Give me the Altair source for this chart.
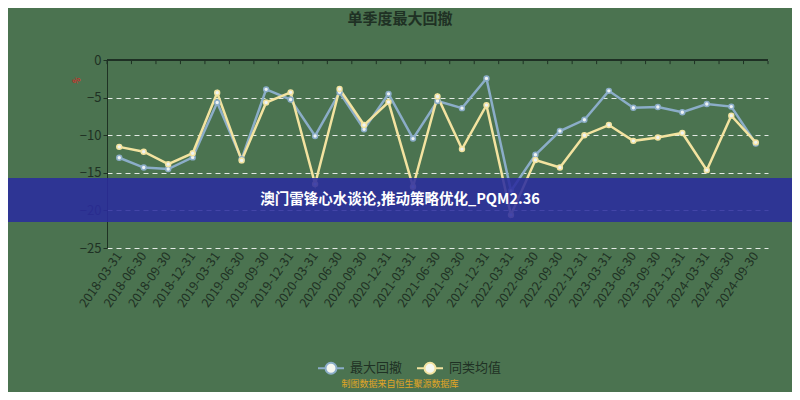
import altair as alt
import pandas as pd

dates = [
    "2018-03-31", "2018-06-30", "2018-09-30", "2018-12-31",
    "2019-03-31", "2019-06-30", "2019-09-30", "2019-12-31",
    "2020-03-31", "2020-06-30", "2020-09-30", "2020-12-31",
    "2021-03-31", "2021-06-30", "2021-09-30", "2021-12-31",
    "2022-03-31", "2022-06-30", "2022-09-30", "2022-12-31",
    "2023-03-31", "2023-06-30", "2023-09-30", "2023-12-31",
    "2024-03-31", "2024-06-30", "2024-09-30",
]
max_drawdown = [
    -13.0, -14.3, -14.5, -12.95,
    -5.65, -13.2, -3.9, -5.25,
    -10.1, -4.3, -9.2, -4.5,
    -10.45, -5.45, -6.4, -2.45,
    -17.4, -12.6, -9.45, -7.95,
    -4.1, -6.35, -6.25, -6.95,
    -5.85, -6.2, -11.1,
]
peer_average = [
    -11.55, -12.2, -13.85, -12.4,
    -4.35, -13.35, -5.65, -4.3,
    -16.5, -3.85, -8.65, -5.6,
    -16.85, -4.85, -11.85, -6.0,
    -20.6, -13.3, -14.3, -10.0,
    -8.65, -10.75, -10.3, -9.7,
    -14.65, -7.4, -10.95,
]
series_names = ["最大回撤", "同类均值"]
series_colors = ["#8badc8", "#f3e3a0"]
y_ticks = [0, -5, -10, -15, -20, -25]

title_text = "单季度最大回撤"
watermark_text = "澳门雷锋心水谈论,推动策略优化_PQM2.36"
footer_text = "制图数据来自恒生聚源数据库"

rows = []
for d, a, b in zip(dates, max_drawdown, peer_average):
    rows.append({"date": d, "series": series_names[0], "value": a})
    rows.append({"date": d, "series": series_names[1], "value": b})
df = pd.DataFrame(rows)
dates_df = pd.DataFrame({"date": dates})

DARK = "#1f3124"
W, H = 661, 188

xscale = alt.Scale(type="band", domain=dates, paddingInner=0, paddingOuter=0)
yscale = alt.Scale(domain=[-25, 0], nice=False)
cscale = alt.Scale(domain=series_names, range=series_colors)

x_axis = alt.Axis(labelAngle=-55, labelFontSize=12.5, labelColor=DARK,
                  ticks=False, domain=False, grid=False, title=None,
                  labelPadding=5, labelOverlap=False)
y_axis = alt.Axis(values=y_ticks, grid=True, gridDash=[5, 4],
                  gridColor="#ffffff", gridOpacity=0.85, domainColor=DARK,
                  tickColor=DARK, tickSize=4, labelColor=DARK,
                  labelFontSize=13, labelPadding=2, title=None,
                  labelOverlap=False, tickCount=6)

legend_path = ("M-1,0L-0.42,0M0.42,0L1,0"
               "M0.42,0A0.42,0.42,0,1,1,-0.42,0A0.42,0.42,0,1,1,0.42,0Z")

x_enc = alt.X("date:N", scale=xscale, sort=None, bandPosition=0.5, axis=x_axis)
y_enc = alt.Y("value:Q", scale=yscale, axis=y_axis)

lines = alt.Chart(df).mark_line(strokeWidth=2.5).encode(
    x=x_enc, y=y_enc,
    color=alt.Color(
        "series:N", scale=cscale, sort=series_names,
        legend=alt.Legend(orient="none", legendX=210, legendY=294,
                          direction="horizontal", title=None,
                          symbolType=legend_path, symbolSize=676,
                          symbolStrokeWidth=2, symbolFillColor="#f5f7f0",
                          labelFontSize=13, labelColor=DARK,
                          labelOffset=5, columnPadding=10, padding=0),
    ),
)

points = alt.Chart(df).mark_point(
    filled=False, fill="#eef3f4", fillOpacity=1, size=24, strokeWidth=1.5
).encode(
    x=x_enc, y=y_enc,
    color=alt.Color("series:N", scale=cscale, legend=None),
)

top_line = alt.Chart(dates_df).mark_rule(color=DARK, strokeWidth=1).encode(
    x=alt.value(0), x2=alt.value(W),
    y=alt.Y(datum=0, scale=yscale, axis=y_axis),
)

top_ticks = alt.Chart(dates_df).mark_rule(color=DARK, strokeWidth=1).encode(
    x=alt.X("date:N", scale=xscale, sort=None, bandPosition=0, axis=x_axis),
    y=alt.Y(datum=0, scale=yscale, axis=y_axis), y2=alt.Y2(datum=-0.55),
)
end_tick = alt.Chart(dates_df).transform_filter(
    alt.datum.date == dates[-1]
).mark_rule(color=DARK, strokeWidth=1).encode(
    x=alt.X("date:N", scale=xscale, sort=None, bandPosition=1, axis=x_axis),
    y=alt.Y(datum=0, scale=yscale, axis=y_axis), y2=alt.Y2(datum=-0.55),
)

title = alt.Chart(dates_df.head(1)).mark_text(
    fontSize=15, fontWeight="bold", color=DARK, align="center", baseline="middle"
).encode(x=alt.value(293), y=alt.value(-41), text=alt.value(title_text))

red_mark = alt.Chart(dates_df.head(1)).mark_text(
    fontSize=8, fontWeight="bold", color="#c8302a", angle=315,
    align="center", baseline="middle"
).encode(x=alt.value(-30), y=alt.value(21), text=alt.value("%"))

band = alt.Chart(dates_df.head(1)).mark_rect(
    color="#2a2c9e", opacity=0.87
).encode(x=alt.value(-99), x2=alt.value(685),
         y=alt.Y(datum=-15.7, scale=yscale, axis=y_axis),
         y2=alt.Y2(datum=-21.55))

watermark = alt.Chart(dates_df.head(1)).mark_text(
    fontSize=14.5, fontWeight="bold", color="#ffffff",
    align="center", baseline="middle"
).encode(x=alt.value(293), y=alt.Y(datum=-18.6, scale=yscale, axis=y_axis),
         text=alt.value(watermark_text))

footer = alt.Chart(dates_df.head(1)).mark_text(
    fontSize=9, color="#e0a526", align="center", baseline="middle"
).encode(x=alt.value(293), y=alt.value(324), text=alt.value(footer_text))

chart = alt.layer(
    lines, points, top_line, top_ticks, end_tick, title, red_mark,
    band, watermark, footer
).properties(
    width=W, height=H,
    padding={"left": 99, "top": 52, "right": 24, "bottom": 144},
    autosize=alt.AutoSizeParams(type="none"),
    background="#4b7350",
).configure(
    font="Noto Sans CJK SC"
).configure_view(stroke=None)

chart.save("out.html", embed_options={"renderer": "svg", "actions": False})
